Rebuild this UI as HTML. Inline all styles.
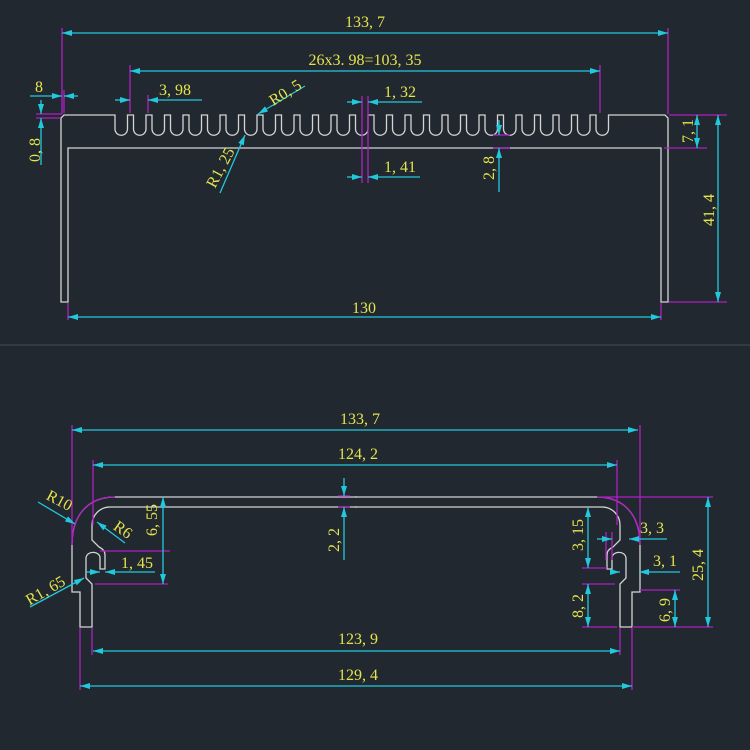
<!DOCTYPE html>
<html><head><meta charset="utf-8"><style>
html,body{margin:0;padding:0;background:#212830;}
svg{display:block}
text{font-family:"Liberation Serif","Noto Serif CJK SC",serif;font-size:16px;fill:#e4e44c;}
</style></head><body>
<svg width="750" height="750" viewBox="0 0 750 750" xmlns="http://www.w3.org/2000/svg">
<defs>
<marker id="a" viewBox="0 0 10 6" refX="10" refY="3" markerWidth="10" markerHeight="6" markerUnits="userSpaceOnUse" orient="auto-start-reverse"><path d="M0,0 L10,3 L0,6 Z" fill="#22c8dc"/></marker>
</defs>
<rect width="750" height="750" fill="#212830"/>
<line x1="0" y1="345" x2="750" y2="345" stroke="#3a4048" stroke-width="1.5"/>

<!-- TOP VIEW -->
<g fill="none" stroke="#d4d4d4" stroke-width="1.3">
<path d="M61,302 V118 L64,115 H115
v14 a6.25 6.25 0 0 0 12.5 0 v-14 h6 v14 a6.25 6.25 0 0 0 12.5 0 v-14 h6 v14 a6.25 6.25 0 0 0 12.5 0 v-14 h6
v14 a6.25 6.25 0 0 0 12.5 0 v-14 h6 v14 a6.25 6.25 0 0 0 12.5 0 v-14 h6 v14 a6.25 6.25 0 0 0 12.5 0 v-14 h6
v14 a6.25 6.25 0 0 0 12.5 0 v-14 h6 v14 a6.25 6.25 0 0 0 12.5 0 v-14 h6 v14 a6.25 6.25 0 0 0 12.5 0 v-14 h6
v14 a6.25 6.25 0 0 0 12.5 0 v-14 h6 v14 a6.25 6.25 0 0 0 12.5 0 v-14 h6 v14 a6.25 6.25 0 0 0 12.5 0 v-14 h6
v14 a6.25 6.25 0 0 0 12.5 0 v-14 h6 v14 a6.25 6.25 0 0 0 12.5 0 v-14 h6 v14 a6.25 6.25 0 0 0 12.5 0 v-14 h6
v14 a6.25 6.25 0 0 0 12.5 0 v-14 h6 v14 a6.25 6.25 0 0 0 12.5 0 v-14 h6 v14 a6.25 6.25 0 0 0 12.5 0 v-14 h6
v14 a6.25 6.25 0 0 0 12.5 0 v-14 h6 v14 a6.25 6.25 0 0 0 12.5 0 v-14 h6 v14 a6.25 6.25 0 0 0 12.5 0 v-14 h6
v14 a6.25 6.25 0 0 0 12.5 0 v-14 h6 v14 a6.25 6.25 0 0 0 12.5 0 v-14 h6 v14 a6.25 6.25 0 0 0 12.5 0 v-14 h6
v14 a6.25 6.25 0 0 0 12.5 0 v-14 h6 v14 a6.25 6.25 0 0 0 12.5 0 v-14 h6 v14 a6.25 6.25 0 0 0 12.5 0 v-14
H665 L668,118 V302 H661 V148 H68 V302 Z"/>
</g>
<!-- magenta extension lines top -->
<g stroke="#b01ec4" stroke-width="1.3">
<line x1="62" y1="28" x2="62" y2="114"/><line x1="668" y1="28" x2="668" y2="114"/>
<line x1="130" y1="65" x2="130" y2="113"/><line x1="600" y1="65" x2="600" y2="113"/>
<line x1="148" y1="95" x2="148" y2="113"/>
<line x1="36" y1="114" x2="62" y2="114"/><line x1="36" y1="118" x2="60" y2="118"/>
<line x1="64" y1="90" x2="64" y2="113"/>
<line x1="362" y1="96" x2="362" y2="183"/><line x1="368" y1="96" x2="368" y2="183"/>
<line x1="493" y1="135" x2="510" y2="135"/><line x1="493" y1="148" x2="510" y2="148"/>
<line x1="669" y1="115" x2="727" y2="115"/><line x1="664" y1="148" x2="707" y2="148"/>
<line x1="669" y1="302" x2="727" y2="302"/>
<line x1="68" y1="303" x2="68" y2="320"/><line x1="661" y1="303" x2="661" y2="320"/>
</g>
<g stroke="#22c8dc" stroke-width="1.3" fill="none">
<line x1="62" y1="33" x2="668" y2="33" marker-start="url(#a)" marker-end="url(#a)"/>
<line x1="130" y1="71" x2="600" y2="71" marker-start="url(#a)" marker-end="url(#a)"/>
<line x1="115" y1="100" x2="130" y2="100" marker-end="url(#a)"/>
<line x1="202" y1="100" x2="148" y2="100" marker-end="url(#a)"/>
<line x1="30" y1="96" x2="62" y2="96" marker-end="url(#a)"/>
<line x1="78" y1="96" x2="64" y2="96" marker-end="url(#a)"/>
<line x1="41" y1="100" x2="41" y2="114" marker-end="url(#a)"/>
<line x1="41" y1="165" x2="41" y2="118" marker-end="url(#a)"/>
<line x1="347" y1="102" x2="362" y2="102" marker-end="url(#a)"/>
<line x1="422" y1="102" x2="368" y2="102" marker-end="url(#a)"/>
<line x1="347" y1="177" x2="362" y2="177" marker-end="url(#a)"/>
<line x1="420" y1="177" x2="368" y2="177" marker-end="url(#a)"/>
<line x1="499" y1="120" x2="499" y2="135" marker-end="url(#a)"/>
<line x1="499" y1="192" x2="499" y2="148" marker-end="url(#a)"/>
<line x1="697" y1="115" x2="697" y2="148" marker-start="url(#a)" marker-end="url(#a)"/>
<line x1="718" y1="115" x2="718" y2="302" marker-start="url(#a)" marker-end="url(#a)"/>
<line x1="68" y1="317" x2="661" y2="317" marker-start="url(#a)" marker-end="url(#a)"/>
<line x1="305" y1="86" x2="258" y2="114" marker-end="url(#a)"/>
<line x1="220" y1="193" x2="245" y2="135" marker-end="url(#a)"/>
</g>
<text x="365" y="27" text-anchor="middle">133, 7</text>
<text x="365" y="65" text-anchor="middle">26x3. 98=103, 35</text>
<text x="175" y="95" text-anchor="middle">3, 98</text>
<text x="39" y="92" text-anchor="middle">8</text>
<text transform="translate(40,150) rotate(-90)" text-anchor="middle">0, 8</text>
<text transform="translate(288,97) rotate(-32)" text-anchor="middle">R0, 5</text>
<text transform="translate(225,170) rotate(-62)" text-anchor="middle">R1, 25</text>
<text x="400" y="97" text-anchor="middle">1, 32</text>
<text x="400" y="172" text-anchor="middle">1, 41</text>
<text transform="translate(494,168) rotate(-90)" text-anchor="middle">2, 8</text>
<text transform="translate(693,131) rotate(-90)" text-anchor="middle">7, 1</text>
<text transform="translate(714,210) rotate(-90)" text-anchor="middle">41, 4</text>
<text x="364" y="313" text-anchor="middle">130</text>

<!-- BOTTOM VIEW -->
<g fill="none" stroke="#d4d4d4" stroke-width="1.3">
<g id="half">
<path d="M357,497 H115 C88,497 72,515 72,545 V592 H80 V627 H92 V584 L86,578 V558 C87,550 100,551 100,558 V569 H105 V556 C105,553 105,550 99,547 L92,540 V525 C92,515 100,507 110,507 H357"/>
</g>
<g transform="translate(712,0) scale(-1,1)">
<path d="M357,497 H115 C88,497 72,515 72,545 V592 H80 V627 H92 V584 L86,578 V558 C87,550 100,551 100,558 V569 H105 V556 C105,553 105,550 99,547 L92,540 V525 C92,515 100,507 110,507 H357"/>
</g>
</g>
<g stroke="#b01ec4" stroke-width="1.3" fill="none">
<line x1="72" y1="425" x2="72" y2="545"/><line x1="640" y1="425" x2="640" y2="545"/>
<line x1="93" y1="460" x2="93" y2="525"/><line x1="617" y1="460" x2="617" y2="525"/>
<line x1="80" y1="628" x2="80" y2="690"/><line x1="92" y1="628" x2="92" y2="655"/>
<line x1="620" y1="628" x2="620" y2="655"/><line x1="632" y1="628" x2="632" y2="690"/>
<line x1="100" y1="551" x2="170" y2="551"/><line x1="95" y1="584" x2="168" y2="584"/>
<line x1="600" y1="497" x2="713" y2="497"/><line x1="632" y1="627" x2="713" y2="627"/>
<line x1="582" y1="627" x2="617" y2="627"/><line x1="640" y1="590" x2="680" y2="590"/>
<line x1="582" y1="584" x2="615" y2="584"/><line x1="582" y1="568" x2="607" y2="568"/>
<line x1="606" y1="532" x2="606" y2="560"/><line x1="612" y1="532" x2="612" y2="560"/>
<line x1="338" y1="496" x2="350" y2="496"/><line x1="338" y1="507" x2="350" y2="507"/>
<path d="M72,545 C72,515 88,497 115,497"/>
<path d="M640,545 C640,515 624,497 597,497"/>
</g>
<g stroke="#22c8dc" stroke-width="1.3" fill="none">
<line x1="72" y1="430" x2="638" y2="430" marker-start="url(#a)" marker-end="url(#a)"/>
<line x1="93" y1="465" x2="617" y2="465" marker-start="url(#a)" marker-end="url(#a)"/>
<line x1="93" y1="651" x2="620" y2="651" marker-start="url(#a)" marker-end="url(#a)"/>
<line x1="80" y1="686" x2="632" y2="686" marker-start="url(#a)" marker-end="url(#a)"/>
<line x1="344" y1="478" x2="344" y2="496" marker-end="url(#a)"/>
<line x1="344" y1="560" x2="344" y2="507" marker-end="url(#a)"/>
<line x1="163" y1="497" x2="163" y2="584" marker-start="url(#a)" marker-end="url(#a)"/>
<line x1="86" y1="572" x2="100" y2="572" marker-end="url(#a)"/>
<line x1="155" y1="572" x2="105" y2="572" marker-end="url(#a)"/>
<line x1="708" y1="497" x2="708" y2="627" marker-start="url(#a)" marker-end="url(#a)"/>
<line x1="675" y1="590" x2="675" y2="627" marker-start="url(#a)" marker-end="url(#a)"/>
<line x1="588" y1="584" x2="588" y2="627" marker-start="url(#a)" marker-end="url(#a)"/>
<line x1="588" y1="507" x2="588" y2="568" marker-start="url(#a)" marker-end="url(#a)"/>
<line x1="597" y1="539" x2="612" y2="539" marker-end="url(#a)"/>
<line x1="667" y1="539" x2="629" y2="539" marker-end="url(#a)"/>
<line x1="612" y1="572" x2="620" y2="572" marker-end="url(#a)"/>
<line x1="680" y1="572" x2="639" y2="572" marker-end="url(#a)"/>
<line x1="38" y1="502" x2="75" y2="524" marker-end="url(#a)"/>
<line x1="125" y1="543" x2="97" y2="522" marker-end="url(#a)"/>
<line x1="30" y1="607" x2="84" y2="578" marker-end="url(#a)"/>
</g>
<text x="360" y="424" text-anchor="middle">133, 7</text>
<text x="358" y="459" text-anchor="middle">124, 2</text>
<text x="358" y="644" text-anchor="middle">123, 9</text>
<text x="358" y="680" text-anchor="middle">129, 4</text>
<text transform="translate(339,540) rotate(-90)" text-anchor="middle">2, 2</text>
<text transform="translate(157,520) rotate(-90)" text-anchor="middle">6, 55</text>
<text x="137" y="568" text-anchor="middle">1, 45</text>
<text transform="translate(57,505) rotate(28)" text-anchor="middle">R10</text>
<text transform="translate(120,534) rotate(35)" text-anchor="middle">R6</text>
<text transform="translate(48,595) rotate(-30)" text-anchor="middle">R1, 65</text>
<text transform="translate(583,535) rotate(-90)" text-anchor="middle">3, 15</text>
<text transform="translate(583,606) rotate(-90)" text-anchor="middle">8, 2</text>
<text transform="translate(670,610) rotate(-90)" text-anchor="middle">6, 9</text>
<text transform="translate(703,565) rotate(-90)" text-anchor="middle">25, 4</text>
<text x="652" y="533" text-anchor="middle">3, 3</text>
<text x="665" y="566" text-anchor="middle">3, 1</text>
</svg>
</body></html>
